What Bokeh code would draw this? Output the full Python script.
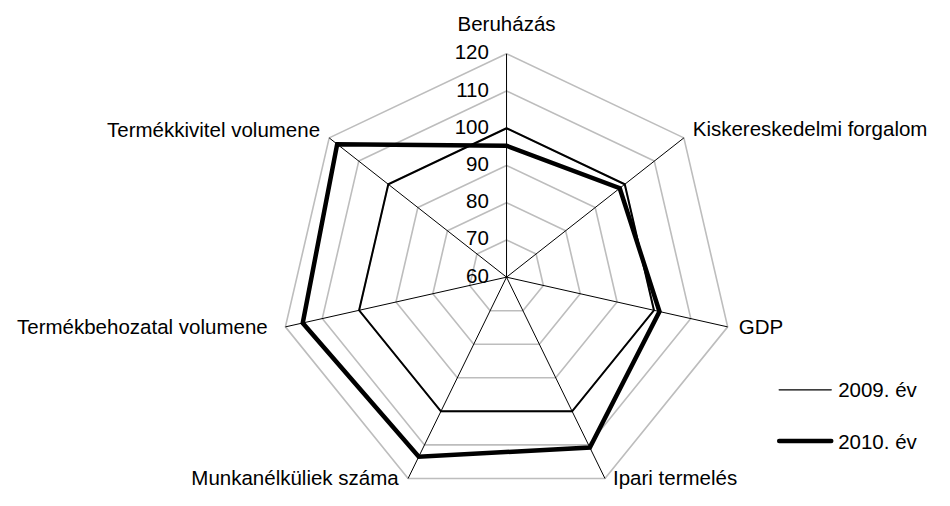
import math
from bokeh.plotting import figure
from bokeh.models import Range1d
from bokeh.core.properties import value
from bokeh.embed import file_html
from bokeh.resources import INLINE

# ---------------- data ----------------
categories = ["Beruházás", "Kiskereskedelmi forgalom", "GDP", "Ipari termelés",
              "Munkanélküliek száma", "Termékbehozatal volumene", "Termékkivitel volumene"]
values_2009 = [100, 100, 100, 100, 100, 100, 100]
values_2010 = [95.3, 98.3, 101.5, 110.8, 113.5, 115.3, 117.3]
series_names = ["2009. év", "2010. év"]
ticks = [60, 70, 80, 90, 100, 110, 120]
tick_labels = ["60", "70", "80", "90", "100", "110", "120"]

# ---------------- layout ----------------
W, H = 934, 490                 # canvas size
RW, RH = 950, 506               # design frame (reference pixels)
KX, KY = W / RW, H / RH         # design px -> screen px
CX, CY = 514.7, 285.7           # radar centre in design pixels
S = 3.845                       # design pixels per value unit
R0 = ticks[0]
FONT = value("Liberation Sans")
FS = "20.5px"

p = figure(width=W, height=H, output_backend="svg", toolbar_location=None,
           x_range=Range1d(-CX / S, (RW - CX) / S),
           y_range=Range1d(-(RH - CY) / S, CY / S),
           x_axis_type=None, y_axis_type=None, min_border=0)
p.grid.visible = False
p.outline_line_color = None
p.background_fill_color = "white"
p.border_fill_color = "white"

n = len(categories)
ang = [2 * math.pi * i / n for i in range(n)]


def pt(v, a):
    r = v - R0
    return r * math.sin(a), r * math.cos(a)


def to_data(X, Y):
    return (X - CX) / S, (CY - Y) / S


# grid rings
ring_xs, ring_ys = [], []
for t in ticks[1:]:
    xs = [pt(t, a)[0] for a in ang] + [pt(t, ang[0])[0]]
    ys = [pt(t, a)[1] for a in ang] + [pt(t, ang[0])[1]]
    ring_xs.append(xs)
    ring_ys.append(ys)
p.multi_line(ring_xs, ring_ys, line_color="#bdbdbd", line_width=1.6)

# spokes
tips = [pt(ticks[-1], a) for a in ang]
p.segment(x0=[0] * n, y0=[0] * n, x1=[t[0] for t in tips], y1=[t[1] for t in tips],
          line_color="black", line_width=1)

# series
for vals, lw in ((values_2009, 2), (values_2010, 4.5)):
    pts = [pt(v, a) for v, a in zip(vals, ang)]
    pts.append(pts[0])
    p.line([q[0] for q in pts], [q[1] for q in pts], line_color="black",
           line_width=lw, line_join="miter")

# tick labels along the first axis
p.text(x=[0] * len(ticks), y=[t - R0 for t in ticks], text=tick_labels,
       text_align="right", text_baseline="middle", x_offset=-18 * KX, y_offset=-1.5 * KY,
       text_font=FONT, text_font_size=FS, text_color="black")

# category labels (offsets in design pixels, text vertically centred)
label_align = ["center", "left", "left", "left", "right", "right", "right"]
label_dx = [0, 9, 11.4, 8.2, -9.6, -18, -9.3]
label_dy = [-31.5, -10, 0, -1, -1, 0, -8.6]
for al in ("center", "left", "right"):
    idx = [i for i in range(n) if label_align[i] == al]
    p.text(x=[tips[i][0] for i in idx], y=[tips[i][1] for i in idx],
           text=[categories[i] for i in idx],
           x_offset=[label_dx[i] * KX for i in idx], y_offset=[label_dy[i] * KY for i in idx],
           text_align=al, text_baseline="middle",
           text_font=FONT, text_font_size=FS, text_color="black")

# legend (drawn manually)
leg_rows = [402, 455]
leg_widths = [1.3, 4.5]
for name, Y, lw in zip(series_names, leg_rows, leg_widths):
    x0, y0 = to_data(792, Y)
    x1, _ = to_data(845, Y)
    p.line([x0, x1], [y0, y0], line_color="black", line_width=lw, line_cap="round")
    tx, _ = to_data(852, Y)
    p.text(x=[tx], y=[y0], text=[name], text_align="left", text_baseline="middle",
           text_font=FONT, text_font_size=FS, text_color="black")

open("out.html", "w").write(file_html(p, INLINE))
